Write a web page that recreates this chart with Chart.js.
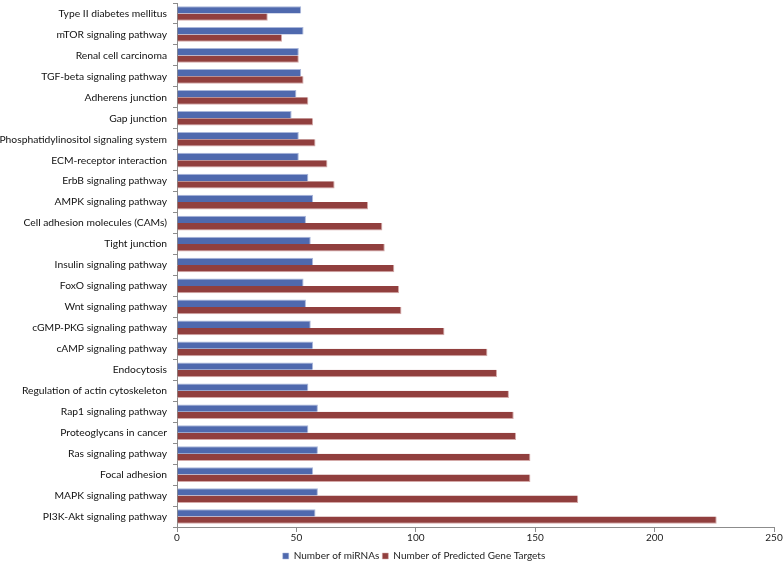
<!DOCTYPE html>
<html>
<head>
<meta charset="utf-8">
<script src="https://cdn.jsdelivr.net/npm/chart.js@4/dist/chart.umd.min.js"></script>
<style>
  html, body { margin: 0; padding: 0; background: #fff; }
  #wrap { width: 784px; height: 562px; }
</style>
</head>
<body>
<div id="wrap"><canvas id="grafik"></canvas></div>
<script>
// pathway names, top to bottom
const pathways = [
    'Type II diabetes mellitus',
    'mTOR signaling pathway',
    'Renal cell carcinoma',
    'TGF-beta signaling pathway',
    'Adherens junction',
    'Gap junction',
    'Phosphatidylinositol signaling system',
    'ECM-receptor interaction',
    'ErbB signaling pathway',
    'AMPK signaling pathway',
    'Cell adhesion molecules (CAMs)',
    'Tight junction',
    'Insulin signaling pathway',
    'FoxO signaling pathway',
    'Wnt signaling pathway',
    'cGMP-PKG signaling pathway',
    'cAMP signaling pathway',
    'Endocytosis',
    'Regulation of actin cytoskeleton',
    'Rap1 signaling pathway',
    'Proteoglycans in cancer',
    'Ras signaling pathway',
    'Focal adhesion',
    'MAPK signaling pathway',
    'PI3K-Akt signaling pathway'
];

const jumlahMiRNA = [52, 53, 51, 52, 50, 48, 51, 51, 55, 57, 54, 56, 57, 53, 54, 56, 57, 57, 55, 59, 55, 59, 57, 59, 58];
const jumlahTarget = [38, 44, 51, 53, 55, 57, 58, 63, 66, 80, 86, 87, 91, 93, 94, 112, 130, 134, 139, 141, 142, 148, 148, 168, 226];

const xTicks = [0, 50, 100, 150, 200, 250];

const fontName = 'Lato, "Open Sans", sans-serif';

// geser legend sedikit ke kanan & bawah, biar posisinya seperti aslinya
const geserLegend = {
    id: 'geserLegend',
    afterLayout(chart) {
        const lg = chart.legend;
        if (!lg) return;
        lg.left += 27;
        lg.right += 27;
        lg.top += 4;
        lg.bottom += 4;
    }
};

const ctx = document.getElementById('grafik').getContext('2d');
const grafik = new Chart(ctx, {
    type: 'bar',
    data: {
        labels: pathways,
        datasets: [
            {
                label: 'Number of miRNAs',
                data: jumlahMiRNA,
                backgroundColor: '#4F69AE',
                borderColor: '#A9B6DA',
                borderWidth: { top: 1, right: 1, bottom: 0, left: 0 },
                borderSkipped: false
            },
            {
                label: 'Number of Predicted Gene Targets',
                data: jumlahTarget,
                backgroundColor: '#913F3E',
                borderColor: '#D4A9A8',
                borderWidth: { top: 0, right: 1, bottom: 1, left: 0 },
                borderSkipped: false
            }
        ]
    },
    plugins: [geserLegend],
    options: {
        indexAxis: 'y',
        responsive: true,
        maintainAspectRatio: false,
        animation: false,
        layout: { padding: { top: 3, right: 10, bottom: -5, left: 0 } },
        datasets: {
            bar: { categoryPercentage: 0.7, barPercentage: 1.0 }
        },
        plugins: {
            legend: {
                position: 'bottom',
                labels: {
                    boxWidth: 6,
                    boxHeight: 6,
                    padding: 3,
                    color: '#222',
                    font: { family: fontName, size: 10 }
                }
            },
            tooltip: { enabled: false }
        },
        scales: {
            x: {
                min: 0,
                max: 250,
                afterBuildTicks: function(scale) {
                    scale.ticks = xTicks.map(v => ({ value: v }));
                },
                border: { color: '#8c8c8c', width: 1 },
                grid: {
                    drawOnChartArea: false,
                    tickLength: 5,
                    color: '#8c8c8c'
                },
                ticks: {
                    color: '#222',
                    padding: 0,
                    font: { family: fontName, size: 10 }
                }
            },
            y: {
                border: { color: '#8c8c8c', width: 1 },
                grid: {
                    drawOnChartArea: false,
                    offset: true,
                    tickLength: 4,
                    color: '#8c8c8c'
                },
                ticks: {
                    color: '#111',
                    padding: 6,
                    autoSkip: false,
                    font: { family: fontName, size: 10.3 }
                },
                afterFit: function(scale) {
                    scale.width = 177;
                    scale.paddingTop = 0;
                    scale.paddingBottom = 0;
                }
            }
        }
    }
});
</script>
</body>
</html>
